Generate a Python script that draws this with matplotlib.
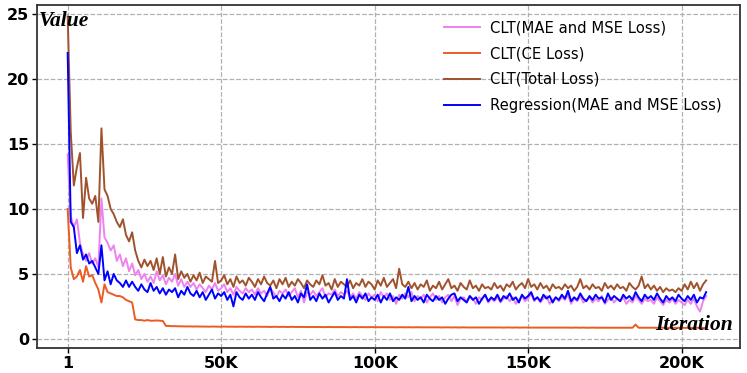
import numpy as np
import matplotlib
matplotlib.use("Agg")
import matplotlib.pyplot as plt

# iteration index, logged every 1K steps
iters = np.arange(0, 209000, 1000)

clt_mae_mse = [
    14.2, 9.4, 8.6, 9.2, 7.4, 6.5, 6.0, 6.6, 5.8, 6.2,
    5.5, 10.8, 7.8, 7.4, 6.8, 7.2, 6.0, 6.5, 5.6, 6.2,
    5.2, 5.8, 4.9, 5.3, 4.6, 5.0, 4.4, 4.8, 4.3, 5.2,
    4.5, 4.9, 4.2, 4.7, 4.4, 5.0, 4.1, 4.6, 4.0, 4.4,
    4.0, 4.3, 3.8, 4.2, 3.9, 3.6, 4.1, 3.8, 4.3, 3.7,
    3.9, 4.2, 3.6, 3.9, 3.4, 4.0, 3.7, 3.5, 3.9, 3.6,
    3.8, 3.4, 3.9, 3.5, 3.7, 3.3, 3.9, 3.6, 3.2, 3.7,
    3.5, 3.8, 3.3, 3.6, 3.9, 3.2, 3.7, 2.8, 3.6, 3.4,
    3.7, 3.3, 3.6, 3.9, 3.2, 3.5, 3.4, 3.8, 3.3, 3.6,
    3.4, 3.7, 3.2, 3.5, 3.1, 3.6, 3.3, 3.0, 3.5, 3.2,
    3.4, 2.9, 3.6, 3.2, 3.5, 3.0, 3.3, 2.7, 3.4, 3.1,
    3.5, 3.2, 3.6, 2.9, 3.3, 3.1, 3.4, 2.8, 3.2, 3.5,
    3.0, 3.3, 2.8, 3.2, 3.4, 2.9, 3.3, 2.6, 3.1, 3.2,
    2.9, 3.3, 3.1, 2.7, 3.2, 3.0, 3.4, 2.8, 3.1, 2.9,
    3.2, 2.8, 3.1, 3.3, 2.9, 3.2, 2.7, 3.0, 3.3, 2.9,
    3.1, 3.5, 2.9, 3.2, 2.8, 3.1, 3.3, 2.7, 3.0, 3.2,
    2.9, 3.2, 3.0, 3.4, 2.7, 3.1, 2.9, 3.3, 2.8, 3.0,
    3.2, 2.8, 3.1, 2.9, 3.3, 2.7, 3.0, 3.2, 2.8, 3.1,
    2.9, 3.2, 2.7, 3.0, 2.8, 3.3, 3.0, 2.7, 3.1, 2.9,
    3.0, 2.7, 3.2, 2.9, 2.6, 3.0, 2.8, 3.1, 2.7, 3.0,
    2.8, 2.6, 3.0, 2.7, 3.1, 2.5, 2.1, 2.9, 3.3,
]

clt_ce = [
    10.0, 5.5, 4.6, 4.8, 5.3, 4.4, 5.6, 4.8, 4.9, 4.3,
    3.8, 2.8, 4.2, 3.6, 3.5, 3.4, 3.3, 3.3, 3.2, 3.0,
    2.9, 2.8, 1.5, 1.45, 1.45, 1.4, 1.45, 1.4, 1.4, 1.42,
    1.4, 1.38, 1.0, 1.0, 0.98, 0.98, 0.97, 0.97, 0.96, 0.96,
    0.96, 0.95, 0.96, 0.95, 0.95, 0.95, 0.94, 0.95, 0.95, 0.94,
    0.94, 0.95, 0.94, 0.94, 0.94, 0.93, 0.94, 0.94, 0.93, 0.94,
    0.93, 0.93, 0.94, 0.93, 0.93, 0.93, 0.92, 0.93, 0.93, 0.92,
    0.93, 0.92, 0.92, 0.93, 0.92, 0.92, 0.92, 0.92, 0.91, 0.92,
    0.92, 0.91, 0.92, 0.91, 0.91, 0.92, 0.91, 0.91, 0.91, 0.91,
    0.91, 0.91, 0.90, 0.91, 0.91, 0.90, 0.91, 0.90, 0.90, 0.91,
    0.90, 0.90, 0.90, 0.90, 0.90, 0.90, 0.90, 0.89, 0.90, 0.90,
    0.89, 0.90, 0.89, 0.89, 0.90, 0.89, 0.89, 0.89, 0.89, 0.89,
    0.89, 0.89, 0.88, 0.89, 0.89, 0.88, 0.89, 0.88, 0.88, 0.89,
    0.88, 0.88, 0.88, 0.88, 0.88, 0.88, 0.88, 0.88, 0.88, 0.88,
    0.88, 0.88, 0.87, 0.88, 0.88, 0.87, 0.88, 0.87, 0.87, 0.88,
    0.87, 0.87, 0.87, 0.87, 0.87, 0.87, 0.87, 0.87, 0.87, 0.87,
    0.87, 0.87, 0.87, 0.87, 0.86, 0.87, 0.87, 0.86, 0.87, 0.86,
    0.86, 0.87, 0.86, 0.86, 0.86, 0.86, 0.86, 0.86, 0.86, 0.86,
    0.86, 0.86, 0.86, 0.86, 0.86, 1.10, 0.86, 0.86, 0.86, 0.86,
    0.86, 0.86, 0.85, 0.86, 0.86, 0.85, 0.86, 0.85, 0.85, 0.86,
    0.85, 0.85, 0.85, 0.85, 0.85, 0.85, 0.85, 0.85, 0.85,
]

clt_total = [
    24.8, 15.9, 11.8, 13.2, 14.3, 9.3, 12.4, 10.8, 10.4, 11.0,
    9.0, 16.2, 11.5, 11.0, 10.0, 9.6, 9.0, 8.6, 9.2, 8.0,
    7.5, 8.2, 6.8, 6.0, 5.5, 6.1, 5.6, 6.0, 5.3, 6.2,
    5.0, 6.3, 4.8, 5.5, 5.0, 6.5, 4.6, 5.2, 4.7, 5.0,
    4.4, 4.9, 4.5, 5.1, 4.3, 4.8, 4.6, 4.4, 6.0, 4.3,
    4.5, 4.9, 4.2, 4.6, 4.0, 4.8, 4.3, 4.5, 4.1, 4.7,
    4.4, 4.0, 4.6, 4.2, 4.8, 4.3, 4.1, 4.5, 3.9, 4.6,
    4.2, 4.7, 4.0, 4.4, 4.1, 4.6, 4.3, 3.9, 4.5, 4.2,
    4.0, 4.5, 4.2, 4.9, 4.1, 4.3, 3.8, 4.6, 4.0, 4.4,
    4.2, 4.0, 4.5, 3.9, 4.3, 4.1, 4.6, 4.0, 4.4, 4.2,
    3.8, 4.5, 4.1, 4.7, 4.0, 4.3, 4.6, 3.9, 5.4, 4.2,
    4.0, 4.4, 3.9, 4.3, 3.8, 4.2, 4.0, 4.5, 3.7, 4.1,
    3.9, 4.4, 3.8, 4.2, 4.6, 3.9, 4.1, 3.7, 4.3, 4.0,
    3.8, 4.5, 3.9, 4.1, 3.7, 4.2, 3.9, 4.0, 3.8, 4.3,
    3.9, 4.1, 3.7, 4.2, 4.0, 4.4, 3.8, 4.1, 4.3, 3.9,
    4.6, 4.0, 4.2, 3.8, 4.3, 3.9, 4.1, 3.7, 4.2, 3.9,
    4.0, 3.8, 4.2, 3.9, 4.1, 3.7, 4.0, 4.6, 3.9, 4.1,
    3.8, 4.2, 3.9, 4.0, 3.7, 4.3, 3.9, 4.1, 3.8, 4.2,
    3.9, 4.0, 3.7, 4.3, 4.0, 3.8, 4.1, 4.8, 3.9, 4.2,
    3.8, 4.1, 3.7, 4.0, 3.6, 3.9, 3.7, 3.8, 3.6, 3.9,
    3.7, 4.2, 3.8, 4.4, 3.9, 4.3, 3.7, 4.2, 4.5,
]

regression = [
    22.0, 9.0, 8.6, 6.6, 7.2, 6.1, 6.5, 5.8, 6.0, 5.5,
    5.0, 7.2, 4.5, 5.2, 4.2, 5.0, 4.5, 4.3, 4.0, 4.5,
    4.0, 4.4, 4.0, 3.7, 4.2, 3.8, 3.6, 4.3, 3.7, 4.0,
    3.5, 3.9, 3.4, 3.8, 3.6, 3.9, 3.2, 3.7, 3.4, 4.0,
    3.5, 3.3, 3.7, 3.2, 3.6, 3.0, 3.4, 3.8, 3.1, 3.5,
    3.3, 3.6, 3.0, 3.4, 2.5, 3.6, 3.2, 3.0, 3.5, 3.1,
    3.4, 3.0, 3.6, 3.2, 2.9, 3.5, 4.0, 3.1, 3.3, 2.9,
    3.4, 3.1, 3.6, 3.0, 3.3, 2.8, 3.5, 3.2, 4.2, 3.0,
    3.3, 2.9, 3.5, 3.1, 3.4, 2.8, 3.2, 3.6, 3.0, 3.3,
    3.1, 4.6, 3.0, 3.3, 2.8, 3.4, 3.1, 3.5, 2.9, 3.2,
    3.0, 3.4, 2.8, 3.3, 3.0, 3.5, 2.9, 3.2, 3.0, 3.4,
    3.1, 4.0, 2.9, 3.3, 3.0, 3.2, 2.8, 3.4, 3.1, 2.9,
    3.3, 3.0, 3.2, 2.7, 3.1, 3.4, 3.5, 2.9, 3.2, 3.0,
    2.8, 3.3, 3.0, 3.2, 2.7, 3.1, 3.4, 2.9, 3.2, 3.0,
    3.4, 2.9, 3.3, 3.1, 3.5, 3.0, 3.2, 2.8, 3.4, 3.1,
    3.3, 3.6, 3.0, 3.2, 2.9, 3.4, 3.1, 3.3, 2.8, 3.2,
    3.0, 3.4, 3.1, 3.7, 2.9, 3.2, 3.0, 3.5, 3.1, 2.9,
    3.3, 3.0, 3.4, 3.1, 3.2, 2.8, 3.5, 3.0, 3.3, 3.1,
    2.9, 3.4, 3.1, 3.3, 3.0, 3.6, 3.2, 2.9, 3.4, 3.1,
    3.3, 3.0, 3.5, 3.1, 2.8, 3.3, 3.0, 3.2, 2.9, 3.4,
    3.1, 2.9, 3.3, 3.0, 3.4, 2.8, 3.2, 3.1, 3.6,
]

tick_pos = [1, 50000, 100000, 150000, 200000]
tick_labels = ["1", "50K", "100K", "150K", "200K"]

fig = plt.figure(figsize=(7.47, 3.73), dpi=100)
ax = fig.add_axes([0.0495, 0.067, 0.941, 0.920])

ax.plot(iters, clt_mae_mse, color="violet", lw=1.4, label="CLT(MAE and MSE Loss)")
ax.plot(iters, clt_ce, color="#ee5a24", lw=1.4, label="CLT(CE Loss)")
ax.plot(iters, clt_total, color="sienna", lw=1.4, label="CLT(Total Loss)")
ax.plot(iters, regression, color="blue", lw=1.4, label="Regression(MAE and MSE Loss)")

ax.set_xlim(-10000, 219000)
ax.set_ylim(-0.7, 25.7)
ax.set_xticks(tick_pos)
ax.set_xticklabels(tick_labels)
ax.set_yticks([0, 5, 10, 15, 20, 25])
for lbl in ax.get_xticklabels() + ax.get_yticklabels():
    lbl.set_fontweight("bold")
    lbl.set_fontsize(11.5)
ax.tick_params(length=3.5, width=1, pad=2)

ax.grid(True, linestyle="--", color="#b0b0b0", linewidth=0.9)
for spine in ax.spines.values():
    spine.set_linewidth(1.3)
    spine.set_edgecolor("#333333")

ax.text(0.002, 0.953, "Value", transform=ax.transAxes, ha="left", va="center",
        family="Liberation Serif", style="italic", weight="bold", fontsize=15.5)
ax.text(0.99, 0.067, "Iteration", transform=ax.transAxes, ha="right", va="center",
        family="Liberation Serif", style="italic", weight="bold", fontsize=15.5)

ax.legend(loc="upper right", bbox_to_anchor=(0.9665, 0.946), bbox_transform=fig.transFigure,
          frameon=False, borderpad=0, borderaxespad=0, fontsize=10.6,
          handlelength=2.5, handletextpad=0.68, labelspacing=0.74)

fig.savefig("out.png", dpi=100)
